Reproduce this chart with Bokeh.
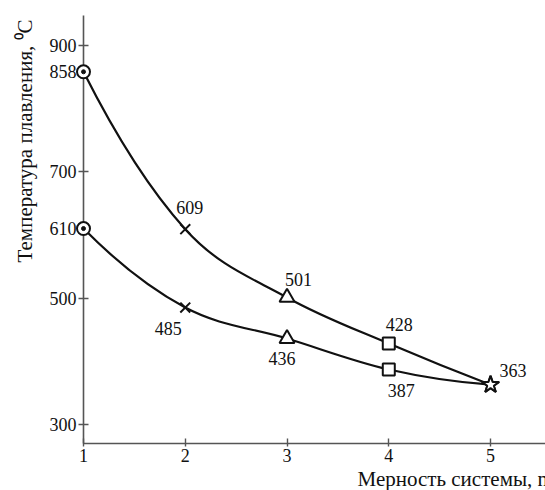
from bokeh.plotting import figure
from bokeh.models import Range1d, FixedTicker, ColumnDataSource, Title
from bokeh.core.properties import value
from bokeh.embed import file_html
from bokeh.resources import INLINE

# ---- data ----
dims = [1, 2, 3, 4, 5]
upper = [858, 609, 501, 428, 363]
lower = [610, 485, 436, 387, 363]
y_ticks = [300, 500, 610, 700, 858, 900]
x_ticks = [1, 2, 3, 4, 5]
markers = ["circle", "x", "triangle", "square", "star"]
y_title = "Температура плавления, \u2070C"
x_title = "Мерность системы, n"

# ---- styles (label offsets in screen px) ----
up_xoff = [-9, -9, -2, -3, 9]
up_yoff = [-3, -22, -18, -19, -14]
up_align = ["right", "left", "left", "left", "left"]
lo_xoff = [-9, -17, -5, -1]
lo_yoff = [-8, 21, 20, 21]
lo_align = ["right", "center", "center", "left"]

FONT = "'Liberation Serif'"
INK = "#111111"
AXIS = "#555555"

p = figure(width=545, height=490,
           x_range=Range1d(1, 5.54), y_range=Range1d(270, 947),
           output_backend="svg", toolbar_location=None,
           min_border_left=83, min_border_right=0,
           min_border_top=15, min_border_bottom=47)
p.grid.visible = False
p.outline_line_color = None
p.background_fill_color = "white"

for ax in (p.xaxis, p.yaxis):
    ax.axis_line_color = AXIS
    ax.axis_line_width = 1.6
    ax.major_tick_line_color = AXIS
    ax.major_tick_line_width = 1.4
    ax.minor_tick_line_color = None
    ax.major_tick_in = 5
    ax.major_tick_out = 5
    ax.major_label_text_font = FONT
    ax.major_label_text_font_size = "18px"
    ax.major_label_text_color = INK
p.xaxis.ticker = FixedTicker(ticks=x_ticks)
p.yaxis.ticker = FixedTicker(ticks=y_ticks)
p.xaxis.major_tick_out = 3
p.xaxis.major_label_standoff = 2
p.yaxis.major_label_standoff = 2


def smooth(xs, ys):
    n = len(xs)
    mx = [0.0] * n
    my = [0.0] * n
    for i in range(1, n - 1):
        mx[i] = (xs[i + 1] - xs[i - 1]) / 2.0
        my[i] = (ys[i + 1] - ys[i - 1]) / 2.0
    mx[0] = 2 * (xs[1] - xs[0]) - mx[1]
    my[0] = 2 * (ys[1] - ys[0]) - my[1]
    mx[-1] = 2 * (xs[-1] - xs[-2]) - mx[-2]
    my[-1] = 2 * (ys[-1] - ys[-2]) - my[-2]
    d = dict(x0=[], y0=[], x1=[], y1=[], cx0=[], cy0=[], cx1=[], cy1=[])
    for i in range(n - 1):
        d["x0"].append(xs[i]); d["y0"].append(ys[i])
        d["x1"].append(xs[i + 1]); d["y1"].append(ys[i + 1])
        d["cx0"].append(xs[i] + mx[i] / 3.0)
        d["cy0"].append(ys[i] + my[i] / 3.0)
        d["cx1"].append(xs[i + 1] - mx[i + 1] / 3.0)
        d["cy1"].append(ys[i + 1] - my[i + 1] / 3.0)
    return d


for series in (upper, lower):
    p.bezier(source=ColumnDataSource(smooth(dims, series)),
             x0="x0", y0="y0", x1="x1", y1="y1",
             cx0="cx0", cy0="cy0", cx1="cx1", cy1="cy1",
             line_color=INK, line_width=2.2)

sizes = {"circle": 13, "x": 14, "triangle": 15, "square": 12, "star": 18}
for series in (upper, lower):
    for xv, yv, m in zip(dims, series, markers):
        r = p.scatter([xv], [yv], marker=m, size=sizes[m],
                      fill_color="white", line_color=INK, line_width=2)
        r.level = "overlay"
    r = p.scatter([dims[0]], [series[0]], marker="circle", size=4,
                  fill_color=INK, line_color=INK)
    r.level = "overlay"

for series, xo, yo, al in ((upper, up_xoff, up_yoff, up_align),
                           (lower, lo_xoff, lo_yoff, lo_align)):
    k = len(xo)
    src = ColumnDataSource(dict(x=dims[1:k], y=series[1:k],
                                t=[str(v) for v in series[1:k]],
                                xo=xo[1:], yo=yo[1:], al=al[1:]))
    p.text(x="x", y="y", text="t", source=src, x_offset="xo", y_offset="yo",
           text_align="al", text_baseline="middle",
           text_font=value(FONT), text_font_size=value("18px"), text_color=INK)

p.add_layout(Title(text=y_title, align="left", offset=181, standoff=19,
                   text_font=FONT, text_font_size="21px",
                   text_font_style="normal", text_color=INK), "left")
p.add_layout(Title(text=x_title, align="left", offset=274, standoff=0,
                   text_font=FONT, text_font_size="21px",
                   text_font_style="normal", text_color=INK), "below")

open("out.html", "w").write(file_html(p, INLINE))
